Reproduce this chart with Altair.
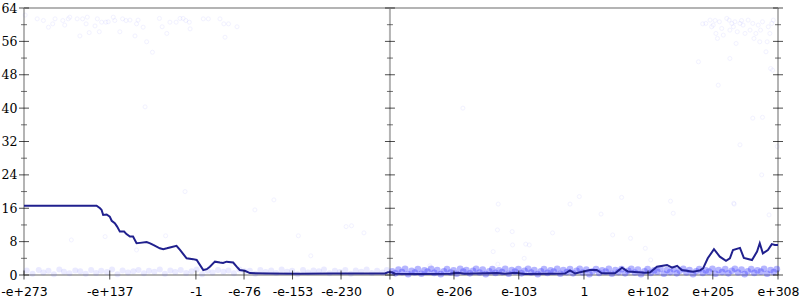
import altair as alt
import pandas as pd

# x positions are in flonum-ordinal units (fraction of the ordinal range x 1000)
x_tick_values = [-943, -722, -500, -376, -251, -126, 0, 165, 332, 500, 665, 832, 1000]
x_tick_labels = ["-e+273", "-e+137", "-1", "-e-76", "-e-153", "-e-230", "0",
                 "e-206", "e-103", "1", "e+102", "e+205", "e+308"]
y_major = [0, 8, 16, 24, 32, 40, 48, 56, 64]
y_minor = [4, 12, 20, 28, 36, 44, 52, 60]
frame_x = [-943, 0, 1000]
frame_y = [0, 64]

line_x = [-943, -756, -747, -743, -739, -730, -722, -717, -709, -703, -696, -685, -679, -670,
          -662, -653, -644, -627, -618, -610, -593, -584, -575, -567, -550, -541, -524, -507,
          -498, -481, -472, -464, -451, -438, -430, -421, -404, -395, -387, -374, -361, -309,
          -232, -155, -77, -13, -5, 5, 13, 77, 155, 175, 193, 276, 296, 322, 348, 412, 451,
          464, 477, 515, 533, 546, 580, 598, 613, 657, 670, 688, 714, 727, 740, 752, 781,
          799, 807, 819, 835, 850, 866, 876, 884, 902, 912, 933, 946, 953, 961, 974, 984,
          992, 1000]
line_y = [16.6, 16.6, 16.0, 15.6, 14.4, 14.5, 14.0, 13.0, 12.4, 11.6, 10.4, 10.4, 9.8, 9.2,
          9.2, 7.6, 7.7, 7.9, 7.6, 7.2, 6.4, 6.2, 6.4, 6.6, 7.0, 6.0, 4.0, 3.8,
          3.6, 1.2, 1.4, 2.0, 3.2, 3.0, 2.9, 3.2, 3.0, 2.0, 1.2, 1.0, 0.45, 0.35,
          0.3, 0.35, 0.35, 0.35, 0.65, 0.65, 0.3, 0.25, 0.3, 0.55, 0.3, 0.5, 0.3, 0.55, 0.25, 0.3, 0.35,
          1.1, 0.35, 1.2, 1.2, 0.4, 0.4, 1.75, 0.85, 0.55, 0.6, 2.0, 2.4, 1.75, 2.2, 1.2, 0.8,
          1.1, 1.6, 4.0, 6.2, 4.4, 3.4, 4.0, 6.0, 6.5, 4.1, 3.6, 5.6, 7.6, 5.2, 6.0, 7.4,
          7.2, 7.2]

scatter_pts = [
    (-940, 62.3), (-909, 61.4), (-893, 61.0), (-880, 59.4), (-869, 60.2), (-863, 61.4),
    (-843, 61.0), (-838, 59.9), (-829, 61.4), (-825, 61.8), (-806, 61.4), (-799, 57.3),
    (-792, 61.4), (-783, 60.2), (-780, 61.8), (-775, 58.1), (-760, 59.7), (-754, 61.4),
    (-749, 58.3), (-743, 60.6), (-732, 60.6), (-726, 60.7), (-713, 61.8), (-709, 61.0),
    (-696, 58.3), (-689, 61.4), (-680, 61.0), (-670, 61.1), (-657, 57.3), (-653, 60.2),
    (-649, 61.1), (-636, 59.4), (-627, 55.9), (-612, 53.4), (-594, 61.5), (-587, 59.5),
    (-575, 57.9), (-567, 60.6), (-551, 60.6), (-541, 61.5), (-533, 61.5), (-526, 61.0),
    (-517, 60.6), (-515, 59.0), (-481, 61.4), (-468, 61.4), (-438, 61.4), (-425, 57.0),
    (-428, 60.2), (-416, 60.2), (-394, 59.5),
    (806, 60.2), (814, 60.3), (825, 61.1), (829, 59.5), (833, 59.9), (838, 61.0), (840, 57.9),
    (844, 56.7), (849, 60.7), (855, 59.1), (859, 57.5), (868, 61.5), (874, 61.1), (876, 58.7),
    (881, 60.3), (885, 59.5), (889, 60.7), (892, 55.5), (895, 58.3), (902, 60.3), (906, 61.0),
    (910, 59.9), (915, 57.9), (923, 61.1), (928, 58.7), (935, 60.3), (938, 56.7), (943, 57.9),
    (949, 59.9), (953, 55.9), (955, 58.7), (960, 60.7), (969, 53.5), (972, 55.9), (975, 59.5),
    (979, 57.9), (984, 60.3), (988, 61.1), (981, 49.5), (986, 49.1), (795, 51.1), (846, 45.5),
    (902, 31.2), (935, 37.6), (960, 37.8), (958, 24.0), (998, 30.8), (886, 17.2), (977, 14.4),
    (876, 51.9),
    (-821, 8.4), (-734, 9.2), (-653, 6.0), (-578, 9.4), (-528, 20.0), (-348, 15.6), (-299, 18.0),
    (-236, 9.4), (-204, 4.6), (-113, 11.6), (-99, 11.8), (-67, 10.1), (-631, 40.3),
    (279, 17.0), (464, 17.0), (488, 18.8), (597, 18.6), (723, 17.7), (887, 17.0), (544, 14.6),
    (730, 14.8), (277, 10.8), (315, 10.4), (419, 10.1), (574, 9.6), (620, 8.8), (316, 7.2),
    (350, 7.4), (359, 7.2), (658, 6.4), (266, 5.6), (346, 4.0), (672, 3.6), (278, 2.6),
    (103, 2.2), (188, 40.0),
]

band_left = [
    (-936, 1.1), (-921, 0.3), (-905, 1.2), (-893, 0.6), (-880, 1.0), (-866, 0.2), (-852, 1.3),
    (-840, 0.8), (-826, 0.4), (-811, 1.1), (-798, 0.9), (-784, 0.3), (-770, 1.2), (-757, 0.5),
    (-744, 1.0), (-729, 0.7), (-716, 1.3), (-702, 0.2), (-689, 1.1), (-675, 0.6), (-661, 0.9),
    (-648, 1.2), (-634, 0.4), (-621, 1.0), (-607, 0.8), (-593, 1.3), (-580, 0.3), (-566, 1.1),
    (-553, 0.7), (-539, 1.2), (-525, 0.5), (-511, 0.9), (-498, 1.3), (-484, 0.2), (-470, 1.0),
    (-457, 0.6), (-443, 1.2), (-429, 0.8), (-416, 1.1), (-402, 0.4), (-388, 1.3), (-375, 0.9),
    (-361, 1.0), (-347, 0.3), (-334, 1.2), (-320, 0.7), (-306, 1.1), (-293, 0.5), (-279, 1.3),
    (-265, 0.8), (-252, 1.0), (-238, 0.2), (-224, 1.2), (-211, 0.6), (-197, 1.1), (-183, 0.9),
    (-170, 1.3), (-156, 0.4), (-142, 1.0), (-129, 0.7), (-115, 1.2), (-101, 0.3), (-88, 1.1),
    (-74, 0.8), (-60, 1.3), (-47, 0.5), (-33, 1.0), (-19, 0.6), (-8, 1.2),
]

band_right = [
    (6, 0.9), (14, 0.4), (22, 1.3), (31, 0.7), (39, 1.5), (47, 0.2), (56, 1.0), (64, 0.6),
    (72, 1.4), (81, 0.3), (89, 1.1), (97, 0.8), (106, 1.5), (114, 0.5), (122, 1.2), (131, 0.2),
    (139, 0.9), (147, 1.4), (156, 0.6), (164, 1.1), (172, 0.3), (181, 1.5), (189, 0.8),
    (197, 1.2), (206, 0.4), (214, 1.0), (222, 1.5), (231, 0.6), (239, 1.3), (247, 0.2),
    (256, 0.9), (264, 1.4), (272, 0.5), (281, 1.1), (289, 0.7), (297, 1.5), (306, 0.3),
    (314, 1.2), (322, 0.8), (331, 1.4), (339, 0.4), (347, 1.0), (356, 1.5), (364, 0.6),
    (372, 1.2), (381, 0.2), (389, 0.9), (397, 1.4), (406, 0.5), (414, 1.1), (422, 0.8),
    (431, 1.5), (439, 0.3), (447, 1.2), (456, 0.7), (464, 1.4), (472, 0.4), (481, 1.0),
    (489, 1.5), (497, 0.6), (506, 1.3), (514, 0.2), (522, 0.9), (531, 1.4), (539, 0.5),
    (547, 1.1), (556, 0.8), (564, 1.5), (572, 0.3), (581, 1.2), (589, 0.7), (597, 1.4),
    (606, 0.4), (614, 1.0), (622, 1.5), (631, 0.6), (639, 1.3), (647, 0.2), (656, 0.9),
    (664, 1.4), (672, 0.5), (681, 1.1), (689, 0.8), (697, 1.5), (706, 0.3), (714, 1.2),
    (722, 0.7), (731, 1.4), (739, 0.4), (747, 1.0), (756, 1.5), (764, 0.6), (772, 1.2),
    (781, 0.2), (789, 0.9), (797, 1.4), (806, 0.5), (814, 1.1), (822, 0.8), (831, 1.5),
    (839, 0.3), (847, 1.2), (856, 0.7), (864, 1.4), (872, 0.4), (881, 1.0), (889, 1.5),
    (897, 0.6), (906, 1.3), (914, 0.2), (922, 0.9), (931, 1.4), (939, 0.5), (947, 1.1),
    (956, 0.8), (964, 1.5), (972, 0.3), (981, 1.2), (989, 0.7), (997, 1.4),
]

# ---------------------------------------------------------------------------
XMIN, XMAX = x_tick_values[0], x_tick_values[-1]
xscale = alt.Scale(domain=[XMIN, XMAX], nice=False, zero=False)
yscale = alt.Scale(domain=[0, 64], nice=False, zero=False)

vals_js = "[" + ",".join(str(v) for v in x_tick_values) + "]"
labs_js = "[" + ",".join("'" + s + "'" for s in x_tick_labels) + "]"
x_axis = alt.Axis(values=x_tick_values, labelExpr=f"{labs_js}[indexof({vals_js}, datum.value)]",
                  title=None, grid=False, domain=False, ticks=False, tickSize=0,
                  labelFont="DejaVu Sans", labelFontSize=12.5, labelColor="black",
                  labelPadding=10, labelFlush=False, labelOverlap=False, labelBound=False)
y_axis = alt.Axis(values=y_major, format="d", title=None, grid=False, domain=False,
                  ticks=False, tickSize=0, labelFont="DejaVu Serif", labelFontSize=12.5,
                  labelColor="black", labelPadding=7, labelFlush=False, labelOverlap=False)

def X(field):
    return alt.X(field, type="quantitative", scale=xscale, axis=x_axis)

def Y(field):
    return alt.Y(field, type="quantitative", scale=yscale, axis=y_axis)

# frame lines
vframe = pd.DataFrame({"x": frame_x, "y0": [frame_y[0]] * 3, "y1": [frame_y[1]] * 3})
hframe = pd.DataFrame({"y": frame_y, "x0": [XMIN] * 2, "x1": [XMAX] * 2})
vrules = alt.Chart(vframe).mark_rule(color="#b4b4b4", strokeWidth=2).encode(
    x=X("x"), y=Y("y0"), y2="y1")
hrules = alt.Chart(hframe).mark_rule(color="#b4b4b4", strokeWidth=2).encode(
    y=Y("y"), x=X("x0"), x2="x1")

scatter = alt.Chart(pd.DataFrame(scatter_pts, columns=["x", "y"])).mark_point(
    filled=False, size=16, strokeWidth=1, color="#4a4aff", opacity=0.07).encode(x=X("x"), y=Y("y"))
bandl = alt.Chart(pd.DataFrame(band_left, columns=["x", "y"])).mark_circle(
    size=36, color="#5a5aff", opacity=0.13).encode(x=X("x"), y=Y("y"))
bandr = alt.Chart(pd.DataFrame(band_right, columns=["x", "y"])).mark_circle(
    size=44, color="#4040ff", opacity=0.38).encode(x=X("x"), y=Y("y"))

line = alt.Chart(pd.DataFrame({"x": line_x, "y": line_y})).mark_line(
    color="#20208e", strokeWidth=2, interpolate="linear").encode(x=X("x"), y=Y("y"))

# axis ticks crossing the axis lines
ymaj_rows = [{"x": fx, "y": v} for fx in frame_x for v in y_major]
ymin_rows = [{"x": fx, "y": v} for fx in frame_x for v in y_minor]
xt_rows = [{"x": v, "y": 0} for v in x_tick_values]
ymaj_ticks = alt.Chart(pd.DataFrame(ymaj_rows)).mark_tick(
    orient="horizontal", size=10, thickness=1, color="black").encode(x=X("x"), y=Y("y"))
ymin_ticks = alt.Chart(pd.DataFrame(ymin_rows)).mark_tick(
    orient="horizontal", size=6, thickness=1, color="#333333").encode(x=X("x"), y=Y("y"))
x_ticks = alt.Chart(pd.DataFrame(xt_rows)).mark_tick(
    orient="vertical", size=9, thickness=1, color="black").encode(x=X("x"), y=Y("y"))

chart = alt.layer(vrules, hrules, bandl, bandr, scatter, line, ymin_ticks, ymaj_ticks, x_ticks).properties(
    width=754, height=267,
    autosize=alt.AutoSizeParams(type="none"),
    padding={"left": 24, "top": 8, "right": 22, "bottom": 25},
    background="white",
).configure_view(stroke=None)

chart.save("out.html", embed_options={"renderer": "svg", "actions": False})
